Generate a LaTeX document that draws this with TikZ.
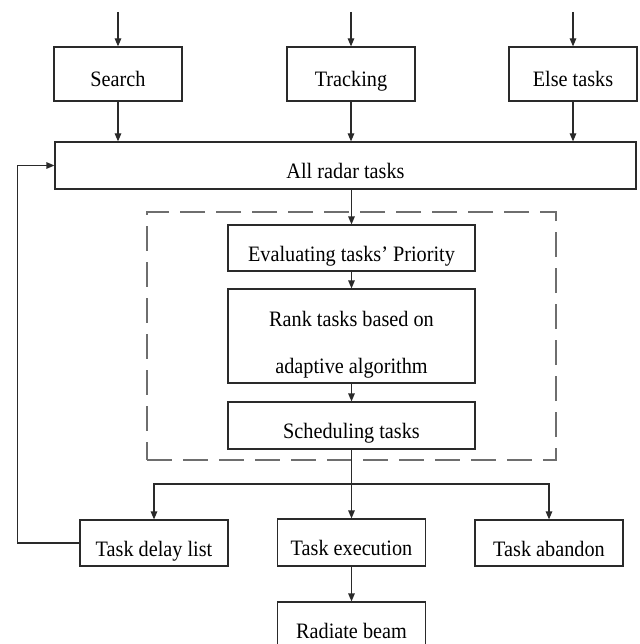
\documentclass[tikz,border=0pt]{standalone}
\usepackage{fontspec}
\setmainfont[FakeStretch=0.92]{Liberation Serif}
\usetikzlibrary{arrows.meta}
\definecolor{lnc}{HTML}{2A2A2A}
\definecolor{dsh}{HTML}{6E6E6E}
\begin{document}
\begin{tikzpicture}[x=1pt,y=-1pt,
  box/.style={draw=lnc,line width=1.2pt,inner sep=0pt,text height=26pt,text depth=0pt,
              font=\fontsize{22}{26}\selectfont,text=black},
  txt/.style={inner sep=0pt,font=\fontsize{22}{26}\selectfont,text=black},
  ln/.style={draw=lnc,line width=1.2pt},
  arr/.style={ln,-{Triangle[length=8pt,width=6.5pt]}},
  dashbox/.style={draw=dsh,line width=1.5pt,dash pattern=on 25pt off 11pt}]
\useasboundingbox (0,0) rectangle (639,644);
% dashed frame
\node[dashbox,inner sep=0pt,minimum width=409pt,minimum height=248pt] (frame) at (351.5,336) {};
% top row
\node[box,minimum width=128pt,minimum height=54pt] (search) at (118,74) {Search};
\node[box,minimum width=128pt,minimum height=54pt] (track) at (351,74) {Tracking};
\node[box,minimum width=128pt,minimum height=54pt] (else) at (573,74) {Else tasks};
\node[box,minimum width=581pt,minimum height=47pt] (all) at (345.5,165.5) {All radar tasks};
% inner chain
\node[box,minimum width=247pt,minimum height=46pt] (eval) at (351.5,248) {Evaluating tasks’ Priority};
\node[box,minimum width=247pt,minimum height=94pt] (rank) at (351.5,336) {};
\node[txt,anchor=base] (rank1) at (351.5,326) {Rank tasks based on};
\node[txt,anchor=base] (rank2) at (351.5,373) {adaptive algorithm};
\node[box,minimum width=247pt,minimum height=47pt] (sched) at (351.5,425.5) {Scheduling tasks};
% bottom row
\node[box,minimum width=148pt,minimum height=46pt] (delay) at (154,543) {Task delay list};
\node[box,minimum width=148pt,minimum height=47pt] (exec) at (351.5,542.5) {Task execution};
\node[box,minimum width=148pt,minimum height=46pt] (aband) at (549,543) {Task abandon};
\node[box,minimum width=148pt,minimum height=47pt] (beam) at (351.5,625.5) {Radiate beam};
% free ends
\coordinate (in1) at (118,12);
\coordinate (in2) at (351,12);
\coordinate (in3) at (573,12);
\coordinate (br) at (351.5,484);
\coordinate (fb) at (17.7,543);
% connectors
\draw[arr] (in1) -- (search.north);
\draw[arr] (in2) -- (track.north);
\draw[arr] (in3) -- (else.north);
\draw[arr] (search.south) -- (search.south |- all.north);
\draw[arr] (track.south) -- (track.south |- all.north);
\draw[arr] (else.south) -- (else.south |- all.north);
\draw[arr] (eval.north |- all.south) -- (eval.north);
\draw[arr] (eval.south) -- (rank.north);
\draw[arr] (rank.south) -- (sched.north);
\draw[arr] (sched.south) -- (exec.north);
\draw[arr] (br) -| (delay.north);
\draw[arr] (br) -| (aband.north);
\draw[arr] (exec.south) -- (beam.north);
\draw[arr] (delay.west) -- (fb) |- (all.west);
\end{tikzpicture}
\end{document}
